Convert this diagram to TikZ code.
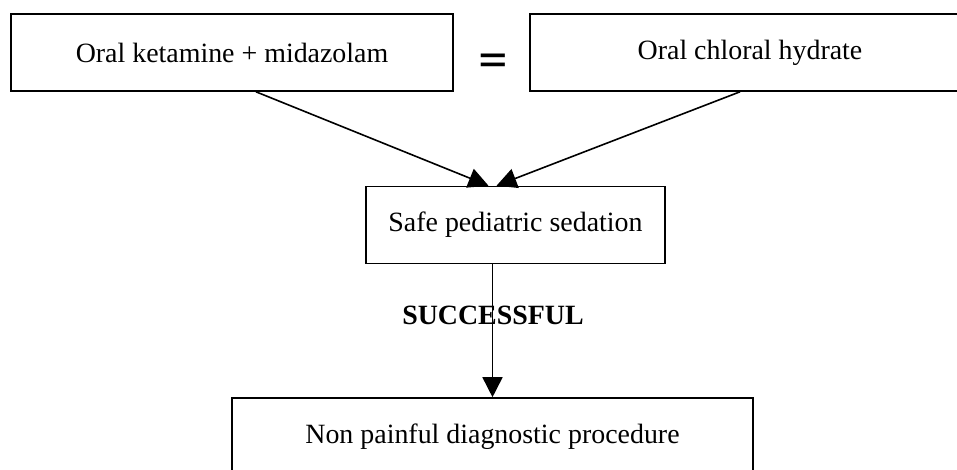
\documentclass[tikz,border=0pt]{standalone}
\usepackage{fontspec}
\setmainfont{Liberation Serif}
\newfontfamily\eqfont{Liberation Sans}
\usetikzlibrary{arrows.meta}
\begin{document}
\begin{tikzpicture}[x=1pt,y=-1pt,
box/.style={
% The shape:
rectangle,
draw=black,
line width=1.6pt,
inner sep=0pt,
minimum height=77pt,
font=\fontsize{27.9}{33}\selectfont
},
flow/.style={
line width=1.6pt,
-{Triangle[length=20pt,width=20pt]}
}
]
\clip (0,0) rectangle (957,469);
% top row
\node (ketamine) [box,minimum width=442pt] at (232,52.5) {Oral ketamine + midazolam};
\node (chloral) [box,minimum width=440pt] at (750,52.5) {Oral chloral hydrate};
\node (equal) [font=\eqfont\bfseries\fontsize{48}{48}\selectfont,yscale=0.7] at (493,63) {=};
% middle and bottom
\node (safe) [box,minimum width=299pt] at (515.5,225) {Safe pediatric sedation};
\node (procedure) [box,minimum width=521pt] at (492.5,436.5) {Non painful diagnostic procedure};
\coordinate (meet) at (safe.north -| procedure.north);
\draw[flow] ([xshift=24pt]ketamine.south) -- ([xshift=-4pt]meet);
\draw[flow] ([xshift=-10pt]chloral.south) -- ([xshift=4pt]meet);
\draw[flow] (safe.south -| procedure.north) -- (procedure.north);
\node (successful) [font=\fontsize{27.9}{33}\selectfont\bfseries] at (493,315) {SUCCESSFUL};
\end{tikzpicture}
\end{document}
